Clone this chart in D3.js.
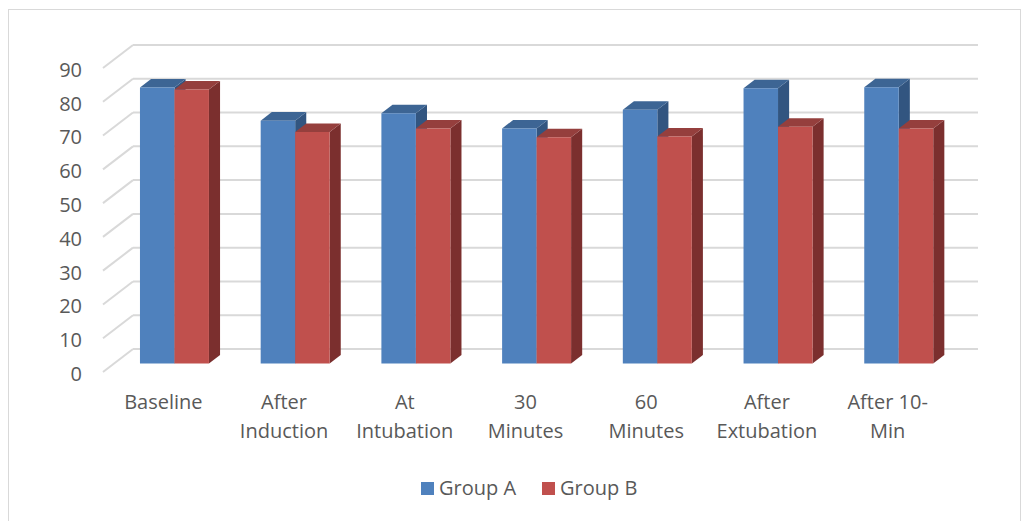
<!DOCTYPE html>
<html>
<head>
<meta charset="utf-8">
<script src="https://cdn.jsdelivr.net/npm/d3@7"></script>
<style>
  html, body { margin: 0; padding: 0; background: #fff; }
  svg { display: block; }
  text { font-family: "Open Sans", "Noto Sans", sans-serif; fill: #595959; }
</style>
</head>
<body>
<svg id="chart"></svg>
<script>
// Data
const categories = ["Baseline", "After Induction", "At Intubation", "30 Minutes", "60 Minutes", "After Extubation", "After 10-Min"];
const categoryLines = [["Baseline"], ["After", "Induction"], ["At", "Intubation"], ["30", "Minutes"], ["60", "Minutes"], ["After", "Extubation"], ["After 10-", "Min"]];
const groupA = [81.7, 71.9, 74.1, 69.6, 75.1, 81.5, 81.8];
const groupB = [81.1, 68.5, 69.6, 67.0, 67.2, 70.1, 69.6];
const seriesNames = ["Group A", "Group B"];
const yTicks = [0, 10, 20, 30, 40, 50, 60, 70, 80, 90];

// Colours
const FRONT = ["#4F81BD", "#C0504D"];
const TOP = ["#3D6594", "#953F3D"];
const SIDE = ["#325580", "#7B2F2E"];
const GRID = "#d9d9d9";

const width = 1027;
const height = 521;
const svg = d3.select("#chart").attr("width", width).attr("height", height);

// Outer chart border
svg.append("rect")
  .attr("x", 8.5).attr("y", 9.5)
  .attr("width", 1012).attr("height", 530)
  .attr("fill", "none").attr("stroke", GRID).attr("stroke-width", 1);

// Front plane scales
const plotLeft = 103;
const plotRight = 948;
const depthX = 30;
const depthY = -23;

const xScale = d3.scaleBand().domain(categories).range([plotLeft, plotRight]).padding(0);
const yScale = d3.scaleLinear().domain([0, 90]).range([372, 68]);

// project a point at depth fraction z (0 = front, 1 = back wall)
const proj = (x, y, z) => [x + z * depthX, y + z * depthY];

// Gridlines: side wall diagonals + back wall horizontals
const grid = svg.append("g").attr("id", "grid");
yTicks.forEach((t) => {
  const y = yScale(t);
  const back = proj(plotLeft, y, 1);
  grid.append("line")
    .attr("x1", plotLeft).attr("y1", y)
    .attr("x2", back[0]).attr("y2", back[1])
    .attr("stroke", GRID).attr("stroke-width", 2);
  grid.append("line")
    .attr("x1", back[0]).attr("y1", back[1])
    .attr("x2", plotRight + depthX).attr("y2", back[1])
    .attr("stroke", GRID).attr("stroke-width", 2);
});

// Y axis labels
const yAxis = d3.axisLeft(yScale).tickValues(yTicks).tickSize(0).tickPadding(0);
const yAxisG = svg.append("g")
  .attr("id", "y-axis")
  .attr("transform", "translate(82,2)")
  .call(yAxis);
yAxisG.select(".domain").remove();
yAxisG.selectAll("text")
  .attr("font-family", null)
  .style("font-size", "20px")
  .style("fill", "#595959");

// Bars
const barZ0 = 0.37;
const barDepth = 0.37;
const bandW = xScale.bandwidth();
const barW = bandW / 3.5;
const outerPad = (bandW - 2 * barW) / 2;

const bars = [];
categories.forEach((c, i) => {
  [groupA[i], groupB[i]].forEach((v, s) => {
    bars.push({ cat: c, value: v, series: s, x: xScale(c) + outerPad + s * barW });
  });
});

const pt = (p) => p[0] + "," + p[1];

const barG = svg.append("g").attr("id", "bars");
bars.forEach((d) => {
  const yTop = yScale(d.value);
  const yBot = yScale(0);
  const z1 = barZ0, z2 = barZ0 + barDepth;
  const fl = proj(d.x, yTop, z1), fr = proj(d.x + barW, yTop, z1);
  const bl = proj(d.x, yTop, z2), br = proj(d.x + barW, yTop, z2);
  const frb = proj(d.x + barW, yBot, z1), brb = proj(d.x + barW, yBot, z2);
  const flb = proj(d.x, yBot, z1);
  const g = barG.append("g").attr("class", "bar");
  // side face
  g.append("polygon")
    .attr("points", [fr, br, brb, frb].map(pt).join(" "))
    .attr("fill", SIDE[d.series]);
  // top face
  g.append("polygon")
    .attr("points", [fl, fr, br, bl].map(pt).join(" "))
    .attr("fill", TOP[d.series]);
  // front face
  g.append("polygon")
    .attr("points", [fl, fr, frb, flb].map(pt).join(" "))
    .attr("fill", FRONT[d.series]);
});

// X axis labels
const xLabels = svg.append("g").attr("id", "x-axis");
categories.forEach((c, i) => {
  const t = xLabels.append("text")
    .attr("x", xScale(c) + bandW / 2)
    .attr("y", 409)
    .attr("text-anchor", "middle")
    .style("font-size", "20px");
  categoryLines[i].forEach((line, j) => {
    t.append("tspan")
      .attr("x", xScale(c) + bandW / 2)
      .attr("dy", j === 0 ? 0 : 29)
      .text(line);
  });
});

// Legend
const legend = svg.append("g").attr("id", "legend");
const legendX = [421, 542];
seriesNames.forEach((name, s) => {
  legend.append("rect")
    .attr("x", legendX[s]).attr("y", 482)
    .attr("width", 13).attr("height", 13)
    .attr("fill", FRONT[s]);
  legend.append("text")
    .attr("x", legendX[s] + 18).attr("y", 495)
    .style("font-size", "20px")
    .text(name);
});
</script>
</body>
</html>
